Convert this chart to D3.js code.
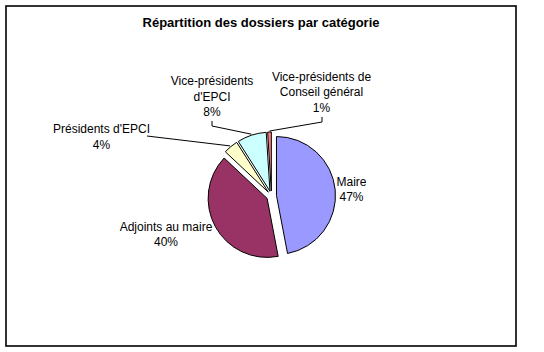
<!DOCTYPE html>
<html><head><meta charset="utf-8">
<script src="https://cdn.jsdelivr.net/npm/d3@7"></script>
<style>body{margin:0;background:#fff}svg{display:block}text{font-family:"Liberation Sans",Arial,sans-serif}</style>
</head><body>
<svg id="c" width="544" height="352"></svg>
<script>
const title = "Répartition des dossiers par catégorie";
const categories = ["Maire", "Adjoints au maire", "Présidents d'EPCI", "Vice-présidents d'EPCI", "Vice-présidents de Conseil général"];
const values = [47, 40, 4, 8, 1];
const labelLines = [["Maire"], ["Adjoints au maire"], ["Présidents d'EPCI"], ["Vice-présidents", "d'EPCI"], ["Vice-présidents de", "Conseil général"]];
const colors = ["#9999FF", "#993366", "#FFFFCC", "#CCFFFF", "#FF8080"];

const svg = d3.select("#c");
svg.append("rect").attr("x",6).attr("y",6).attr("width",510).attr("height",340)
  .attr("fill","#fff").attr("stroke","#000").attr("stroke-width",1.6);
svg.append("text").attr("x",261).attr("y",27).attr("text-anchor","middle")
  .attr("font-size",13).attr("font-weight","bold").text(title);

const cx = 271.5, cy = 196, r = 59, explode = 5;
const pie = d3.pie().sort(null).value(d=>d.v);
const data = values.map((v,i)=>({v, i}));
const arcs = pie(data);
const total = d3.sum(values);
const arc = d3.arc().innerRadius(0).outerRadius(r);
const g = svg.append("g").attr("transform",`translate(${cx},${cy})`);
arcs.forEach(a=>{
  const mid = (a.startAngle+a.endAngle)/2;
  const dx = Math.sin(mid)*explode, dy = -Math.cos(mid)*explode;
  g.append("path").attr("d",arc(a)).attr("transform",`translate(${dx},${dy})`)
    .attr("fill",colors[a.data.i]).attr("stroke","#000").attr("stroke-width",1);
});

// label layout (centre x, first baseline, leader line)
const labelPos = [
  {x:351.5, y:185.5},
  {x:166, y:230.5},
  {x:101.5, y:133, lead:[[147,136]]},
  {x:212, y:85, lead:[[212,121],[212,126]]},
  {x:321.5, y:80.5, lead:[[322,117],[322,122]]}
];
const lh = 15.5;
arcs.forEach(a=>{
  const i = a.data.i, p = labelPos[i];
  const lines = labelLines[i].concat([Math.round(a.data.v/total*100)+"%"]);
  const t = svg.append("text").attr("text-anchor","middle").attr("font-size",12).attr("fill","#000");
  lines.forEach((s,k)=>t.append("tspan").attr("x",p.x).attr("y",p.y+k*lh).text(s));
  if (p.lead){
    const mid = (a.startAngle+a.endAngle)/2;
    const rr = r+explode+1;
    const end = [cx+Math.sin(mid)*rr, cy-Math.cos(mid)*rr];
    svg.append("path").attr("d", d3.line()(p.lead.concat([end])))
      .attr("fill","none").attr("stroke","#000").attr("stroke-width",1);
  }
});
</script>
</body></html>
